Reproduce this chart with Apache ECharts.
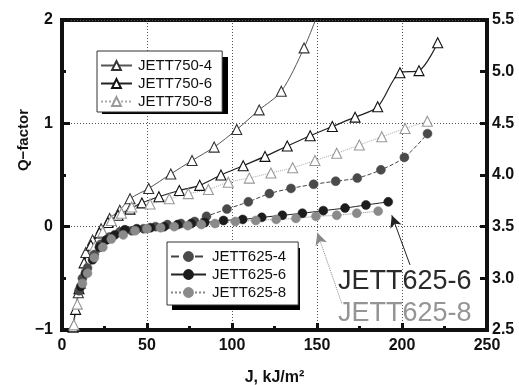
<!DOCTYPE html>
<html><head><meta charset="utf-8">
<script src="https://cdn.jsdelivr.net/npm/echarts@6/dist/echarts.min.js"></script>
<style>html,body{margin:0;padding:0;background:#fff}#c{width:519px;height:385px}</style>
</head><body><div id="c"></div>
<script>
// ---- data: [J (kJ/m^2), Q-factor] ----
const jett750_4 = [[6.6,-0.97],[9.6,-0.64],[14,-0.25],[18,-0.13],[23,-0.02],[28,0.08],[34,0.16],[40,0.27],[51,0.37],[64,0.51],[76.5,0.64],[89.5,0.77],[102.8,0.94],[116,1.13],[129,1.31],[142.4,1.73],[150.5,2.06]];
const jett750_6 = [[6.5,-0.97],[8,-0.8],[10,-0.6],[13,-0.35],[17,-0.18],[22,-0.06],[27,0.04],[33,0.11],[40,0.17],[47,0.23],[57,0.29],[69,0.35],[81,0.40],[93.5,0.50],[106.6,0.59],[119.4,0.68],[132.5,0.78],[146,0.88],[159,0.97],[172.4,1.06],[185.7,1.16],[198.8,1.49],[210,1.51],[221,1.78]];
const jett750_8 = [[7,-0.95],[9,-0.75],[11,-0.55],[14,-0.4],[19,-0.2],[24,-0.05],[29,0.06],[35,0.13],[41,0.19],[51.8,0.22],[63.1,0.27],[74.3,0.32],[86.1,0.36],[97.8,0.43],[110.2,0.47],[122.9,0.52],[135.7,0.57],[148.8,0.64],[161.6,0.71],[174.9,0.79],[188.1,0.87],[201.8,0.95],[214.9,1.02]];
const jett625_4 = [[10,-0.62],[12,-0.5],[15,-0.4],[19,-0.27],[23,-0.17],[28,-0.1],[34,-0.05],[41,-0.04],[48,-0.02],[55,0.0],[62,0.02],[70,0.03],[78,0.05],[85,0.1],[97,0.17],[109.6,0.24],[122,0.32],[134.7,0.37],[148,0.41],[161,0.44],[173.7,0.47],[187.6,0.55],[201.4,0.67],[215,0.9]];
const jett625_6 = [[11,-0.58],[14,-0.45],[18,-0.32],[22,-0.2],[26,-0.13],[31,-0.08],[37,-0.03],[44,-0.02],[52,-0.01],[60,0.0],[68,0.02],[76,0.03],[84,0.04],[95,0.06],[106.3,0.07],[117.5,0.09],[129.6,0.11],[141.4,0.13],[153.7,0.155],[166.5,0.18],[178.8,0.21],[191.9,0.24]];
const jett625_8 = [[12,-0.55],[15,-0.45],[19,-0.3],[24,-0.2],[29,-0.12],[36,-0.08],[43,-0.04],[50,-0.02],[58,-0.01],[66,0.0],[74,0.01],[82,0.02],[90,0.03],[102,0.05],[114,0.06],[126,0.07],[137.6,0.08],[149.4,0.10],[161.6,0.11],[173.4,0.13],[186,0.15]];
// annotation arrows: [from, to] in data units
const arrow625_6 = [[204.7,-0.37],[194,0.11]];
const arrow625_8 = [[164.5,-0.74],[150.2,-0.06]];
const xTicks = {min:0, max:250, step:50};
const yTicks = {min:-1, max:2, step:1};
const y2Ticks = {min:2.5, max:5.5, step:0.5};

const FONT = "'Liberation Sans', Arial, sans-serif";
const chart = echarts.init(document.getElementById('c'), null, {renderer:'canvas'});

function tri(name, data, lineColor, lineType, lineW, symColor){
  return {name, type:'line', data, smooth:0.3, symbol:'triangle', symbolSize:10,
    lineStyle:{color:lineColor, width:lineW, type:lineType},
    itemStyle:{color:'#fff', borderColor:symColor, borderWidth:1.1}};
}
function circ(name, data, lineColor, lineType, fill){
  return {name, type:'line', data, smooth:0.3, symbol:'circle', symbolSize:9,
    lineStyle:{color:lineColor, width:1, type:lineType},
    itemStyle:{color:fill, borderColor:fill, borderWidth:0.5}};
}
const s625_6 = circ('JETT625-6', jett625_6, '#222', 'solid', '#1c1c1c');
s625_6.markLine = {silent:true, symbol:['none','arrow'], symbolSize:[9,12], label:{show:false},
  lineStyle:{color:'#222', width:1, type:'solid'},
  data:[[{coord:arrow625_6[0]},{coord:arrow625_6[1]}]]};
const s625_8 = circ('JETT625-8', jett625_8, '#888', 'dotted', '#8a8a8a');
s625_8.markLine = {silent:true, symbol:['none','arrow'], symbolSize:[9,12], label:{show:false},
  lineStyle:{color:'#888', width:1, type:'dotted'},
  data:[[{coord:arrow625_8[0]},{coord:arrow625_8[1]}]]};

const legendCommon = {orient:'vertical', itemWidth:31, itemHeight:11, itemGap:3,
  backgroundColor:'#fff', borderColor:'#333', borderWidth:1, z:10,
  textStyle:{fontFamily:FONT, fontSize:15, lineHeight:14, color:'#111', padding:[0,0,0,1]}};

chart.setOption({
  animation:false,
  backgroundColor:'#fff',
  grid:{left:62, right:32, top:20, bottom:55, outerBoundsMode:'none', containLabel:false,
    show:true, borderColor:'#111', borderWidth:4, backgroundColor:'transparent'},
  xAxis:{type:'value', min:xTicks.min, max:xTicks.max, interval:xTicks.step,
    name:'J, kJ/m²', nameLocation:'middle', nameGap:40,
    nameTextStyle:{fontFamily:FONT, fontSize:16, fontWeight:'bold', color:'#111'},
    axisLine:{show:true, onZero:false, lineStyle:{color:'#111', width:4}},
    axisTick:{show:true, inside:true, length:7, lineStyle:{color:'#111', width:3}},
    minorTick:{show:true, splitNumber:2, length:4, lineStyle:{color:'#111', width:3}},
    axisLabel:{fontFamily:FONT, fontSize:16, fontWeight:'bold', color:'#111', margin:8},
    splitLine:{show:true, lineStyle:{color:'#555', width:1, type:[1,2]}}},
  yAxis:[{type:'value', min:yTicks.min, max:yTicks.max, interval:yTicks.step,
    name:'Q−factor', nameLocation:'middle', nameGap:31, nameMoveOverlap:false,
    nameTextStyle:{fontFamily:FONT, fontSize:15, fontWeight:'bold', color:'#111', padding:[0,0,0,70]},
    axisLine:{show:true, onZero:false, lineStyle:{color:'#111', width:4}},
    axisTick:{show:true, inside:true, length:8, lineStyle:{color:'#111', width:3}},
    minorTick:{show:true, splitNumber:2, length:4, lineStyle:{color:'#111', width:3}},
    axisLabel:{fontFamily:FONT, fontSize:16, fontWeight:'bold', color:'#111', margin:9,
      formatter:v=>String(v).replace('-','−')},
    splitLine:{show:true, lineStyle:{color:'#555', width:1, type:[1,2]}}},
   {type:'value', position:'right', min:y2Ticks.min, max:y2Ticks.max, interval:y2Ticks.step,
    axisLine:{show:true, onZero:false, lineStyle:{color:'#111', width:4}},
    axisTick:{show:true, inside:true, length:7, lineStyle:{color:'#111', width:3}},
    axisLabel:{fontFamily:FONT, fontSize:16, fontWeight:'bold', color:'#111', margin:5,
      formatter:v=>v.toFixed(1)},
    splitLine:{show:false}}],
  legend:[
    Object.assign({}, legendCommon, {left:97, top:51, padding:[7,10,3,3],
      data:['JETT750-4','JETT750-6','JETT750-8']}),
    Object.assign({}, legendCommon, {left:167, top:242, padding:[7,12,5,3], itemWidth:35,
      data:['JETT625-4','JETT625-6','JETT625-8']})
  ],
  graphic:[
    {type:'rect', left:102, top:57, z:9, shape:{width:126, height:57}, style:{fill:'#000'}},
    {type:'rect', left:172, top:248, z:9, shape:{width:128, height:62}, style:{fill:'#000'}},
    {type:'text', left:338, top:268, z:100, style:{text:'JETT625-6', fontFamily:FONT, fontSize:27, fill:'#2a2a2a'}},
    {type:'text', left:338, top:300, z:100, style:{text:'JETT625-8', fontFamily:FONT, fontSize:27, fill:'#959595'}}
  ],
  series:[
    tri('JETT750-4', jett750_4, '#555', 'solid', 1, '#333'),
    tri('JETT750-6', jett750_6, '#222', 'solid', 1.2, '#111'),
    tri('JETT750-8', jett750_8, '#aaa', 'dotted', 1, '#999'),
    circ('JETT625-4', jett625_4, '#444', 'dashed', '#4a4a4a'),
    s625_6,
    s625_8
  ]
});
</script></body></html>
